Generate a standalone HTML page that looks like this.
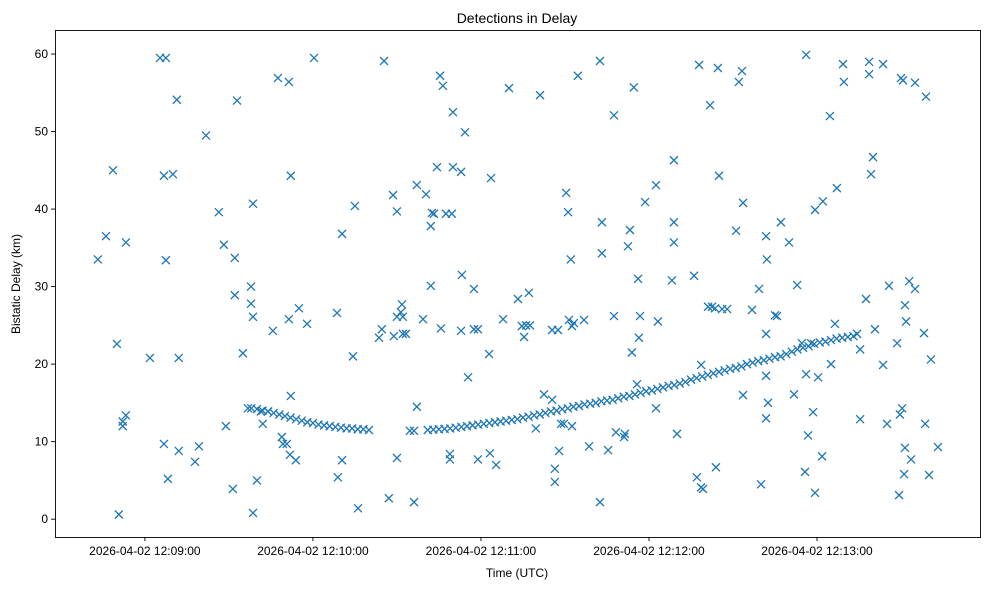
<!DOCTYPE html>
<html><head><meta charset="utf-8"><style>
html,body{margin:0;padding:0;background:#fff;}
svg{display:block;font-family:"Liberation Sans","DejaVu Sans",sans-serif;}
</style></head><body>
<svg id="chart" width="989" height="590" viewBox="0 0 989 590">
<rect width="989" height="590" fill="#fff"/>
<text x="517" y="23" text-anchor="middle" font-size="14">Detections in Delay</text>
<g id="marks"></g>
<g id="xticks"></g>
<g id="yticks"></g>
<rect x="55.5" y="30.5" width="925" height="507" fill="none" stroke="#000" stroke-width="0.9"/>
<text x="517" y="577" text-anchor="middle" font-size="12">Time (UTC)</text>
<text transform="translate(20,284) rotate(-90)" text-anchor="middle" font-size="12">Bistatic Delay (km)</text>
</svg>
<script>
// seconds after 2026-04-02 12:09:00 UTC
const scatterTimes = [-16.8,-13.9,-11.4,-10.0,-9.3,-7.9,-7.9,-6.8,-6.8,1.8,5.4,7.5,6.8,6.8,7.5,8.2,10.0,11.4,12.1,12.1,17.9,19.3,21.8,26.4,28.2,28.9,31.4,32.1,32.1,32.9,35.0,37.9,37.9,38.6,38.6,38.6,40.0,41.4,42.1,43.9,45.7,47.5,48.9,49.3,50.7,51.4,51.4,52.1,52.1,51.8,53.9,55.0,57.9,60.4,68.6,70.4,68.9,70.4,74.3,75.0,76.1,85.4,83.6,84.6,87.1,88.6,90.0,90.0,88.9,92.1,90.0,92.1,91.8,91.4,93.2,94.6,96.1,96.1,97.1,97.1,99.3,100.4,102.1,102.5,103.2,102.1,104.3,105.4,106.4,105.7,107.5,109.6,108.9,108.9,110.0,110.0,112.9,112.9,114.3,113.2,115.4,117.5,117.5,118.9,118.9,122.9,123.2,123.6,125.4,127.9,130.0,133.2,134.6,136.1,135.4,137.1,137.5,139.6,141.1,142.5,145.4,145.4,147.5,146.4,146.4,147.9,148.6,149.6,150.4,151.1,152.1,151.4,152.5,153.2,152.5,154.6,156.8,158.6,162.5,162.5,163.2,163.2,165.4,167.5,167.5,168.2,171.1,171.4,172.5,173.2,173.9,174.6,175.7,176.4,176.8,176.1,178.6,182.5,183.2,182.5,188.2,188.9,188.9,188.9,190.0,196.1,197.1,198.6,199.3,197.9,198.6,201.1,202.5,203.6,201.8,204.6,205.0,203.9,206.1,207.9,211.1,212.1,213.2,213.6,213.6,216.8,220.0,219.3,221.8,221.8,221.8,222.1,222.5,221.8,225.0,225.7,227.1,230.0,231.8,232.9,234.6,235.7,236.1,236.1,236.8,237.9,238.6,239.3,239.3,240.4,241.8,242.1,244.6,245.0,246.4,247.1,249.3,249.6,254.3,255.4,255.4,257.5,258.6,258.6,259.3,260.0,260.7,263.6,263.6,265.0,265.7,268.6,269.3,269.6,270.0,270.4,270.7,271.1,271.4,271.4,271.8,272.9,273.6,275.0,275.0,278.2,278.6,278.9,280.0,280.7,283.2];
const scatterDelays = [33.5,36.5,45.0,22.6,0.6,12.0,12.6,13.4,35.7,20.8,59.5,59.5,44.3,9.7,33.4,5.2,44.5,54.1,20.8,8.8,7.4,9.4,49.5,39.6,35.4,12.0,3.9,33.7,28.9,54.0,21.4,30.0,27.8,26.1,40.7,0.8,5.0,13.9,12.3,13.9,24.3,56.9,10.6,9.7,9.7,56.4,25.8,44.3,15.9,8.3,7.6,27.2,25.2,59.5,26.6,36.8,5.4,7.6,21.0,40.4,1.4,59.1,23.4,24.5,2.7,41.8,39.7,7.9,23.6,23.9,26.1,26.1,27.7,26.7,23.9,11.4,11.4,2.2,14.5,43.1,25.8,41.9,37.8,39.5,39.4,30.1,45.4,57.2,55.9,24.6,39.4,39.4,8.4,7.7,52.5,45.4,44.8,24.3,49.9,31.5,18.3,29.7,24.5,24.5,7.7,21.3,8.5,44.0,7.0,25.8,55.6,28.4,24.9,25.0,23.5,29.2,25.0,11.7,54.7,16.1,15.4,24.4,24.4,6.5,4.8,8.8,12.3,12.3,42.1,39.6,33.5,25.7,24.9,25.3,12.0,57.2,25.7,9.4,2.2,59.1,34.3,38.3,8.9,52.1,26.2,11.2,10.6,11.0,35.2,37.3,21.5,55.7,17.4,23.4,26.2,31.0,40.9,43.1,25.5,14.3,30.8,38.3,35.7,46.3,11.0,31.4,5.4,4.1,3.9,58.6,19.9,27.4,27.4,27.2,53.4,58.2,44.3,6.7,27.1,27.1,37.2,56.4,57.8,40.8,16.0,27.0,4.5,29.7,36.5,13.0,18.5,33.5,15.0,23.9,26.3,26.2,38.3,35.7,16.1,30.2,22.7,6.1,59.9,18.7,10.8,22.7,13.8,39.9,3.4,18.3,8.1,41.0,52.0,20.0,25.2,42.7,58.7,56.4,23.9,21.9,12.9,28.4,59.0,57.4,44.5,46.7,24.5,58.7,19.9,12.3,30.1,22.7,3.1,13.5,56.9,14.3,56.6,5.8,27.6,9.2,25.5,30.7,7.7,29.7,56.3,24.0,12.3,54.5,5.7,20.6,9.3];
const trackTimes = [36.8,38,40,42,44,46,48,50,52,54,56,58,60,62,64,66,68,70,72,74,76,78,80,101,103,105,107,109,111,113,115,117,119,121,123,125,127,129,131,133,135,137,139,141,143,145,147,149,151,153,155,157,159,161,163,165,167,169,171,173,175,177,179,181,183,185,187,189,191,193,195,197,199,201,203,205,207,209,211,213,215,217,219,221,223,225,227,229,231,233,235,237,239,241,243,245,247,249,251,253];
const trackDelays = [14.3,14.3,14.2,14.0,13.9,13.7,13.5,13.3,13.1,12.9,12.7,12.5,12.4,12.2,12.1,12.0,11.9,11.8,11.7,11.7,11.6,11.6,11.5,11.5,11.55,11.6,11.65,11.7,11.8,11.9,12.0,12.1,12.2,12.3,12.4,12.5,12.6,12.7,12.8,12.9,13.1,13.2,13.4,13.5,13.7,13.9,14.0,14.2,14.3,14.5,14.6,14.8,14.9,15.0,15.2,15.3,15.4,15.6,15.8,15.9,16.1,16.3,16.5,16.6,16.8,17.0,17.2,17.3,17.5,17.7,18.0,18.2,18.4,18.6,18.8,19.0,19.2,19.4,19.5,19.7,20.0,20.2,20.4,20.5,20.7,20.9,21.0,21.3,21.6,21.9,22.1,22.3,22.6,22.8,22.9,23.1,23.3,23.4,23.5,23.6];
const xTickValues = [0,60,120,180,240];
const xTickLabels = ["2026-04-02 12:09:00","2026-04-02 12:10:00","2026-04-02 12:11:00","2026-04-02 12:12:00","2026-04-02 12:13:00"];
const yTickValues = [0,10,20,30,40,50,60];

const NS = "http://www.w3.org/2000/svg";
const px0 = 55, px1 = 980, py0 = 537, py1 = 30;
const xMin = -32.1, xMax = 298.2, yMin = -2.3, yMax = 63.1;
function xScale(t){ return px0 + (t - xMin) / (xMax - xMin) * (px1 - px0); }
function yScale(d){ return py0 - (d - yMin) / (yMax - yMin) * (py0 - py1); }
function mk(tag, attrs){ const e = document.createElementNS(NS, tag); for (const k in attrs) e.setAttribute(k, attrs[k]); return e; }

const marks = document.getElementById("marks");
function drawX(t, d, name){
  const cx = xScale(t), cy = yScale(d), r = 4;
  const p = mk("path", {d:`M${cx-r},${cy-r}L${cx+r},${cy+r}M${cx-r},${cy+r}L${cx+r},${cy-r}`, stroke:"#1f77b4", "stroke-width":"1.3", fill:"none"});
  
  
  marks.appendChild(p);
}
for (let i = 0; i < scatterTimes.length; i++) drawX(scatterTimes[i], scatterDelays[i], 'detection-point');
for (let i = 0; i < trackTimes.length; i++) drawX(trackTimes[i], trackDelays[i], 'track-point');

const xg = document.getElementById("xticks");
xTickValues.forEach((v, i) => {
  const x = xScale(v);
  const l = mk("line", {x1:x, x2:x, y1:py0, y2:py0+4, stroke:"#000", "stroke-width":"0.9"});
  
  
  xg.appendChild(l);
  const tx = mk("text", {x:x, y:py0+18, "text-anchor":"middle", "font-size":"12"});
  
  
  tx.textContent = xTickLabels[i];
  xg.appendChild(tx);
});
const yg = document.getElementById("yticks");
yTickValues.forEach(v => {
  const y = yScale(v);
  const l = mk("line", {x1:px0-4, x2:px0, y1:y, y2:y, stroke:"#000", "stroke-width":"0.9"});
  
  
  yg.appendChild(l);
  const tx = mk("text", {x:px0-7, y:y+4, "text-anchor":"end", "font-size":"12"});
  
  
  tx.textContent = v;
  yg.appendChild(tx);
});
</script>
</body></html>
